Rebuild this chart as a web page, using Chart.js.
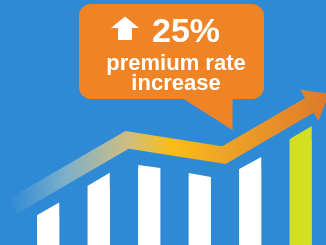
<!DOCTYPE html>
<html>
<head>
<meta charset="utf-8">
<script src="https://cdn.jsdelivr.net/npm/chart.js@4"></script>
<style>
  html, body { margin: 0; padding: 0; background: #2f8ad6; }
  #wrap { position: relative; width: 326px; height: 245px; background: #2f8ad6; overflow: hidden; }
</style>
</head>
<body>
<div id="wrap"><canvas id="chart"></canvas></div>
<script>
// periods (no labels shown on the picture)
const categories = ["P1", "P2", "P3", "P4", "P5", "P6"]
// bar tops, left and right edge (tops are slanted like the trend line)
const barTopLeft = [12.2, 24.2, 32.7, 29.4, 31.0, 43.3]
const barTopRight = [17.3, 29.5, 31.4, 27.8, 35.9, 48.6]
const barColors = ["#ffffff", "#ffffff", "#ffffff", "#ffffff", "#ffffff", "#d4df22"]
// trend arrow, x in category units
const trendX = [-0.70, 1.56, 3.48, 5.17]
const trendY = [15.9, 42.9, 36.7, 57.0]

const calloutBig = "25%"
const calloutLines = ["premium rate", "increase"]

function trendGradient(chart) {
  const g = chart.ctx.createLinearGradient(0, 0, chart.width, 0)
  g.addColorStop(0.03, "rgba(47,138,214,1)")
  g.addColorStop(0.20, "#7cafca")
  g.addColorStop(0.33, "#b4b99c")
  g.addColorStop(0.40, "#d0be7a")
  g.addColorStop(0.53, "#fbbd14")
  g.addColorStop(0.68, "#eea526")
  g.addColorStop(1.00, "#df7a2a")
  return g
}

// slanted bar tops
const slantBars = {
  id: "slantBars",
  afterDatasetDraw(chart, args) {
    if (args.index !== 0) return
    const y = chart.scales.y
    const ctx = chart.ctx
    args.meta.data.forEach((bar, i) => {
      const half = bar.width / 2
      ctx.save()
      ctx.fillStyle = barColors[i]
      ctx.beginPath()
      ctx.moveTo(bar.x - half, bar.base)
      ctx.lineTo(bar.x - half, y.getPixelForValue(barTopLeft[i]))
      ctx.lineTo(bar.x + half, y.getPixelForValue(barTopRight[i]))
      ctx.lineTo(bar.x + half, bar.base)
      ctx.closePath()
      ctx.fill()
      ctx.restore()
    })
  }
}

// arrow head at the end of the trend line
const arrowHead = {
  id: "arrowHead",
  afterDatasetDraw(chart, args) {
    if (args.index !== 1) return
    const pts = args.meta.data
    const a = pts[pts.length - 2], b = pts[pts.length - 1]
    const len = Math.hypot(b.x - a.x, b.y - a.y)
    const dx = (b.x - a.x) / len, dy = (b.y - a.y) / len
    const headLen = 23, headHalf = 18
    const ctx = chart.ctx
    ctx.save()
    ctx.fillStyle = trendGradient(chart)
    ctx.beginPath()
    ctx.moveTo(b.x - dy * headHalf, b.y + dx * headHalf)
    ctx.lineTo(b.x + dx * headLen, b.y + dy * headLen)
    ctx.lineTo(b.x + dy * headHalf, b.y - dx * headHalf)
    ctx.closePath()
    ctx.fill()
    ctx.restore()
  }
}

// orange speech bubble
const callout = {
  id: "callout",
  afterDraw(chart) {
    const ctx = chart.ctx
    ctx.save()
    ctx.fillStyle = "#ee8425"
    ctx.beginPath()
    ctx.roundRect(79, 4, 185, 95, 12)
    ctx.fill()
    ctx.beginPath()
    ctx.moveTo(182, 98)
    ctx.lineTo(232.5, 130)
    ctx.lineTo(232.5, 98)
    ctx.closePath()
    ctx.fill()

    ctx.fillStyle = "#ffffff"
    // up arrow icon
    ctx.beginPath()
    ctx.moveTo(125, 16.5)
    ctx.lineTo(139, 28)
    ctx.lineTo(132, 28)
    ctx.lineTo(132, 40)
    ctx.lineTo(118, 40)
    ctx.lineTo(118, 28)
    ctx.lineTo(111, 28)
    ctx.closePath()
    ctx.fill()

    ctx.textBaseline = "alphabetic"
    ctx.textAlign = "left"
    ctx.font = 'bold 34px "Liberation Sans", Arial, sans-serif'
    ctx.fillText(calloutBig, 152, 42)
    ctx.textAlign = "center"
    ctx.font = 'bold 22px "Liberation Sans", Arial, sans-serif'
    ctx.fillText(calloutLines[0], 176, 70)
    ctx.fillText(calloutLines[1], 176, 90)
    ctx.restore()
  }
}

new Chart(document.getElementById("chart"), {
  type: "bar",
  data: {
    labels: categories,
    datasets: [
      {
        data: barTopLeft.map((v, i) => Math.min(v, barTopRight[i])),
        backgroundColor: barColors,
        borderWidth: 0,
        grouped: false,
        barPercentage: 0.435,
        categoryPercentage: 1
      },
      {
        type: "line",
        xAxisID: "xLine",
        data: trendX.map((x, i) => ({ x, y: trendY[i] })),
        borderColor: (c) => trendGradient(c.chart),
        borderWidth: 17,
        borderJoinStyle: "miter",
        borderCapStyle: "butt",
        pointRadius: 0,
        tension: 0,
        clip: false
      }
    ]
  },
  options: {
    responsive: true,
    maintainAspectRatio: false,
    animation: false,
    layout: { padding: { left: 23, right: 0, top: 0, bottom: 0 } },
    plugins: { legend: { display: false }, tooltip: { enabled: false } },
    scales: {
      x: { display: false, offset: true },
      xLine: { type: "linear", display: false, offset: false, min: -0.5, max: 5.5 },
      y: { display: false, min: 0, max: 100 }
    }
  },
  plugins: [slantBars, arrowHead, callout]
})
</script>
</body>
</html>
